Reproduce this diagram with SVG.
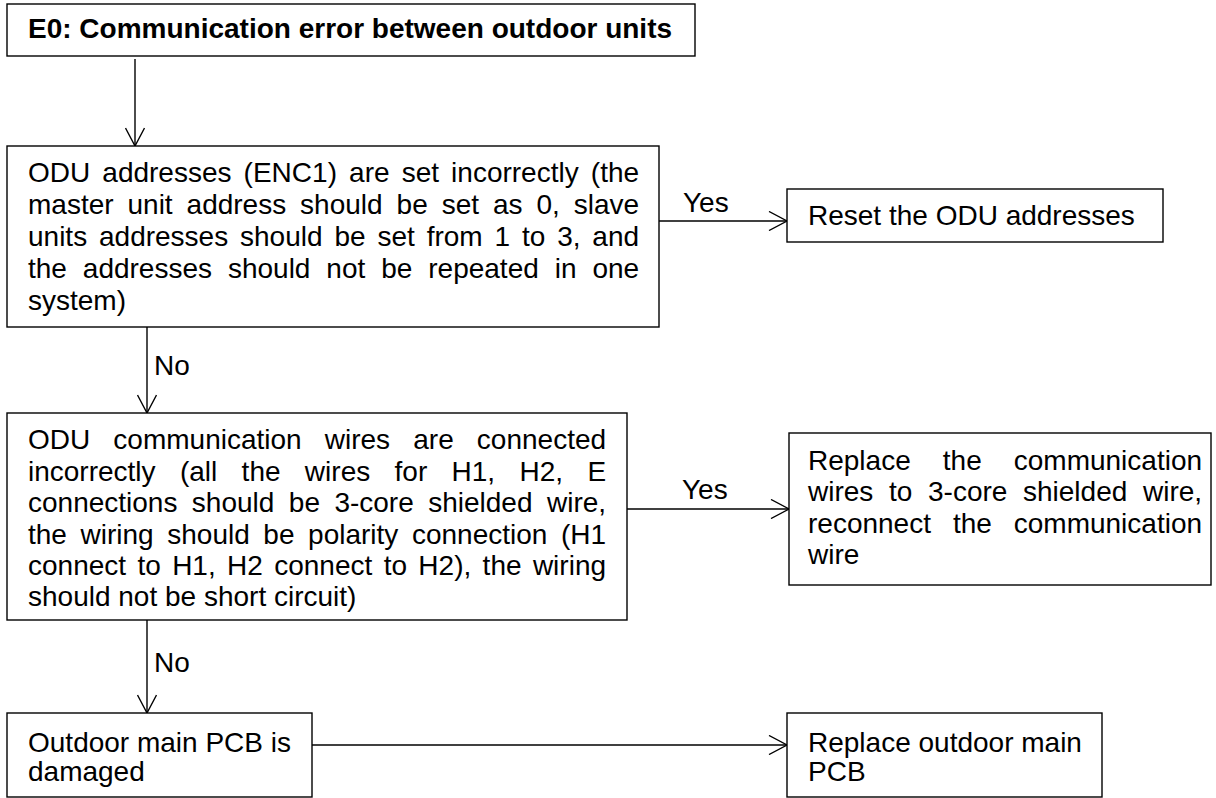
<svg xmlns="http://www.w3.org/2000/svg" width="1216" height="798" viewBox="0 0 1216 798">
<style>
.box{fill:#fff;stroke:#000;stroke-width:1.4}
.t{font-family:"Liberation Sans",Arial,sans-serif;font-size:28px;fill:#000}
.b{font-weight:bold}
.c{stroke:#000;stroke-width:1.4;fill:none}
</style>
<defs>
<marker id="ah" viewBox="0 0 20 20" refX="19" refY="10" markerWidth="20" markerHeight="20" markerUnits="userSpaceOnUse" orient="auto">
<path d="M1,0.5 L19,10 L1,19.5" fill="none" stroke="#000" stroke-width="1.4"/>
</marker>
</defs>
<rect width="1216" height="798" fill="#fff"/>
<g id="connectors">
<line class="c" x1="135" y1="59" x2="135" y2="146" marker-end="url(#ah)"/>
<line class="c" x1="659" y1="221" x2="787" y2="221" marker-end="url(#ah)"/>
<line class="c" x1="147" y1="327" x2="147" y2="413" marker-end="url(#ah)"/>
<line class="c" x1="627" y1="509" x2="789" y2="509" marker-end="url(#ah)"/>
<line class="c" x1="147" y1="620" x2="147" y2="713" marker-end="url(#ah)"/>
<line class="c" x1="312" y1="745" x2="787" y2="745" marker-end="url(#ah)"/>
<text class="t" x="683" y="212">Yes</text>
<text class="t" x="154" y="375">No</text>
<text class="t" x="682" y="499">Yes</text>
<text class="t" x="154" y="672">No</text>
</g>
<g id="n0">
<rect class="box" x="7" y="4" width="688" height="52"/>
<text class="t b" x="28" y="38">E0: Communication error between outdoor units</text>
</g>
<g id="n1">
<rect class="box" x="7" y="146" width="652" height="181"/>
<text class="t" x="28" y="182" word-spacing="4.33">ODU addresses (ENC1) are set incorrectly (the</text>
<text class="t" x="28" y="214" word-spacing="6.15">master unit address should be set as 0, slave</text>
<text class="t" x="28" y="246" word-spacing="4.08">units addresses should be set from 1 to 3, and</text>
<text class="t" x="28" y="278" word-spacing="8.13">the addresses should not be repeated in one</text>
<text class="t" x="28" y="310">system)</text>
</g>
<g id="n2">
<rect class="box" x="787" y="189" width="376" height="53"/>
<text class="t" x="808" y="225">Reset the ODU addresses</text>
</g>
<g id="n3">
<rect class="box" x="7" y="413" width="620" height="207"/>
<text class="t" x="28" y="449" word-spacing="15.35">ODU communication wires are connected</text>
<text class="t" x="28" y="480.5" word-spacing="16.56">incorrectly (all the wires for H1, H2, E</text>
<text class="t" x="28" y="512" word-spacing="6.66">connections should be 3-core shielded wire,</text>
<text class="t" x="28" y="543.5" word-spacing="5.81">the wiring should be polarity connection (H1</text>
<text class="t" x="28" y="575" word-spacing="3.58">connect to H1, H2 connect to H2), the wiring</text>
<text class="t" x="28" y="606">should not be short circuit)</text>
</g>
<g id="n4">
<rect class="box" x="789" y="433" width="422" height="152"/>
<text class="t" x="808" y="470" word-spacing="24.27">Replace the communication</text>
<text class="t" x="808" y="501" word-spacing="7.87">wires to 3-core shielded wire,</text>
<text class="t" x="808" y="533" word-spacing="14.15">reconnect the communication</text>
<text class="t" x="808" y="564">wire</text>
</g>
<g id="n5">
<rect class="box" x="7" y="713" width="305" height="84"/>
<text class="t" x="28" y="752">Outdoor main PCB is</text>
<text class="t" x="28" y="781">damaged</text>
</g>
<g id="n6">
<rect class="box" x="787" y="713" width="315" height="84"/>
<text class="t" x="808" y="752">Replace outdoor main</text>
<text class="t" x="808" y="781">PCB</text>
</g>
</svg>
